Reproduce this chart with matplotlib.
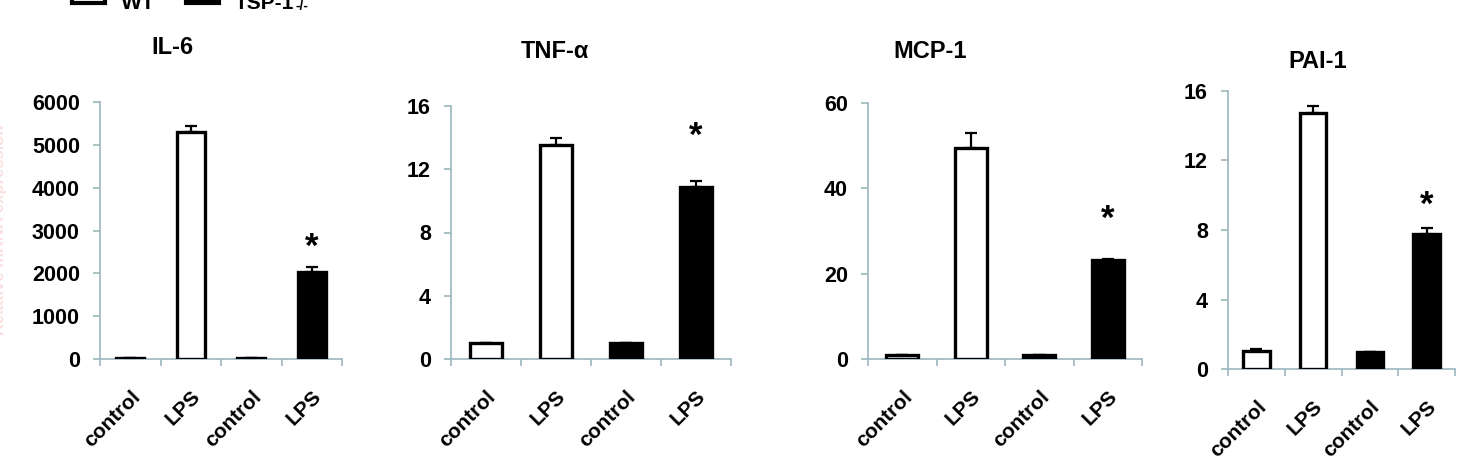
import numpy as np
import matplotlib
matplotlib.use("Agg")
import matplotlib.pyplot as plt
from matplotlib.patches import Rectangle

plt.rcParams['font.family'] = ['Liberation Sans', 'DejaVu Sans']
plt.rcParams['font.weight'] = 'bold'

W, H = 1458, 462

groups = ["control", "LPS", "control", "LPS"]
fills = ["white", "white", "black", "black"]

titles = ["IL-6", "TNF-\u03b1", "MCP-1", "PAI-1"]
il6 = [20, 5300, 20, 2030]
il6_err = [0, 140, 0, 120]
tnf = [1.0, 13.55, 1.0, 10.9]
tnf_err = [0, 0.4, 0, 0.35]
mcp = [1.0, 49.5, 1.0, 23.2]
mcp_err = [0, 3.5, 0, 0.3]
pai = [1.05, 14.75, 1.0, 7.75]
pai_err = [0.1, 0.4, 0, 0.38]
star_y = [2600, 14.1, 32.8, 9.4]

values = [il6, tnf, mcp, pai]
errors = [il6_err, tnf_err, mcp_err, pai_err]
ymax = [6000, 16, 60, 16]
ystep = [1000, 4, 20, 4]

# panel boxes in pixels: left, right, top, bottom
boxes = [(100, 342, 102, 359), (451, 731, 106, 359),
         (868, 1142, 103, 359), (1228, 1455, 91, 369)]
title_pos = [(172, 48), (555, 52), (930, 52), (1318, 62)]

axis_col = "#9db6bd"

fig = plt.figure(figsize=(W / 100, H / 100), dpi=100)

for i in range(4):
    l, r, t, b = boxes[i]
    ax = fig.add_axes([l / W, 1 - b / H, (r - l) / W, (b - t) / H])
    x = np.arange(4)
    ax.bar(x, values[i], width=0.47, color=fills, edgecolor="black",
           linewidth=2.4, zorder=3)
    yerr = np.array([np.zeros(4), errors[i]])
    ax.errorbar(x, values[i], yerr=yerr, fmt="none", ecolor="black",
                elinewidth=1.6, capsize=4.5, capthick=1.6, zorder=2)
    ax.text(3, star_y[i], "*", ha="center", va="center", fontsize=25,
            fontweight="bold")
    ax.set_xlim(-0.5, 3.5)
    ax.set_ylim(0, ymax[i])
    ax.set_yticks(np.arange(0, ymax[i] + ystep[i] / 2, ystep[i]))
    ax.set_xticks(x)
    ax.set_xticklabels(groups, rotation=45, ha="right", rotation_mode="anchor",
                       fontsize=15, fontweight="bold")
    ax.set_xticks(np.arange(-0.5, 4, 1), minor=True)
    ax.tick_params(axis="x", which="major", length=0, pad=20)
    ax.tick_params(axis="x", which="minor", length=5, color=axis_col, width=1.2,
                   direction="out")
    ax.tick_params(axis="y", length=5, color=axis_col, width=1.2, labelsize=15.5,
                   pad=9.5)
    for lab in ax.get_yticklabels():
        lab.set_fontweight("bold")
    for s in ["top", "right"]:
        ax.spines[s].set_visible(False)
    for s in ["left", "bottom"]:
        ax.spines[s].set_color(axis_col)
        ax.spines[s].set_linewidth(1.2)
    ax.patch.set_visible(False)
    tx, ty = title_pos[i]
    fig.text(tx / W, 1 - ty / H, titles[i], ha="center", va="center",
             fontsize=17, fontweight="bold")

# legend, cut off at top edge of the picture
fig.patches.append(Rectangle((72 / W, 1 - 3 / H), 33 / W, 16 / H,
                             transform=fig.transFigure, facecolor="white",
                             edgecolor="black", linewidth=3))
fig.patches.append(Rectangle((186 / W, 1 - 3 / H), 33 / W, 16 / H,
                             transform=fig.transFigure, facecolor="black",
                             edgecolor="black", linewidth=3))
fig.text(121 / W, 1 - 9 / H, "WT", ha="left", va="baseline", fontsize=16,
         fontweight="bold")
fig.text(235 / W, 1 - 9 / H, "TSP-1", ha="left", va="baseline", fontsize=15,
         fontweight="bold")
fig.text(295 / W, 1 - 10 / H, "-/-", ha="left", va="baseline", fontsize=10,
         fontweight="bold")

# faint y label at the left edge
fig.text(0, 1 - 230 / H, "Relative mRNA expression", rotation=90,
         ha="center", va="center", fontsize=12, color="#fae0e0")

fig.savefig("out.png", dpi=100)
